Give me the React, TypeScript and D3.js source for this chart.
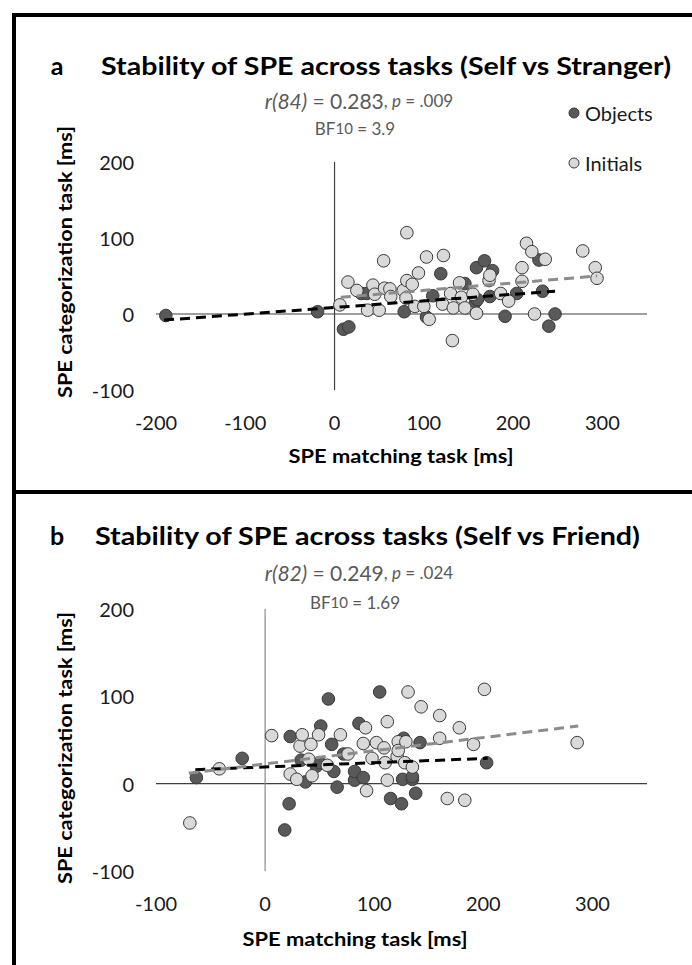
import React from "react";
import * as d3 from "d3";

// ---------- DATA ----------
const xTicksA = [-200, -100, 0, 100, 200, 300];
const xTicksB = [-100, 0, 100, 200, 300];
const yTicks = [-100, 0, 100, 200];

// Panel a: Self vs Stranger  [matching SPE, categorization SPE]
const objectsA: [number, number][] = [
  [-189, -2], [-19, 3], [10, -20], [16, -17], [30, 27], [36, 27], [78, 3], [103, -4],
  [110, 24], [119, 53], [146, 40], [158, 16], [160, 19], [159, 61], [168, 70], [177, 57],
  [174, 23], [191, -3], [204, 27], [229, 71], [233, 30], [240, -16], [247, 0],
];
const initialsA: [number, number][] = [
  [6, 12], [15, 42], [25, 31], [43, 38], [45, 26], [37, 5], [50, 5], [55, 70], [56, 34],
  [62, 33], [63, 23], [77, 31], [80, 21], [81, 107], [81, 44], [87, 39], [94, 54], [90, 10],
  [100, 10], [106, -7], [103, 75], [122, 77], [121, 13], [130, 27], [133, 8], [132, -35],
  [140, 41], [142, 22], [146, 8], [155, 26], [159, 1], [173, 44], [174, 51], [186, 27],
  [195, 17], [210, 61], [210, 43], [215, 93], [221, 82], [236, 72], [224, 0], [278, 83],
  [292, 61], [294, 47],
];
const trendObjectsA: [number, number][] = [[-191, -8], [247, 30]];
const trendInitialsA: [number, number][] = [[7, 22], [294, 50]];

// Panel b: Self vs Friend
const objectsB: [number, number][] = [
  [-63, 7], [-21, 29], [18, -53], [22, -23], [23, 54], [33, 27], [37, 2], [47, 20], [50, 24],
  [51, 66], [58, 97], [61, 45], [63, 14], [66, -4], [72, 34], [82, 4], [82, 14], [86, 69],
  [90, 7], [105, 105], [115, -17], [125, -23], [126, 5], [127, 52], [135, 5], [135, 8],
  [138, -11], [142, 47], [203, 24],
];
const initialsB: [number, number][] = [
  [-69, -45], [-42, 17], [6, 55], [23, 11], [29, 5], [32, 43], [34, 56], [40, 28], [42, 45],
  [43, 9], [49, 56], [57, 21], [69, 56], [76, 34], [90, 46], [92, 64], [93, -8], [98, 29],
  [102, 47], [109, 41], [110, 24], [112, 71], [112, 4], [121, 31], [122, 48], [122, 38],
  [128, 24], [129, 48], [131, 105], [135, 19], [143, 88], [160, 78], [160, 52], [167, -17],
  [178, 64], [183, -19], [191, 45], [201, 108], [286, 47],
];
const trendObjectsB: [number, number][] = [[-64, 16], [204, 29]];
const trendInitialsB: [number, number][] = [[-70, 12], [287, 66]];

const legendLabels = ["Objects", "Initials"];

// ---------- STYLE ----------
const FONT = "Lato, 'Open Sans', sans-serif";
const DARK = "#595959";
const LIGHT = "#d9d9d9";
const STROKE = "#3a3a3a";

type PanelProps = {
  letter: string;
  title: string;
  titleY: number;
  titleX: number;
  titleW: number;
  xDomain: [number, number];
  xTicks: number[];
  yRange: [number, number];
  objects: [number, number][];
  initials: [number, number][];
  trendO: [number, number][];
  trendI: [number, number][];
  rText: string;
  rVal: string;
  pVal: string;
  statY: number;
  bfY: number;
  bfVal: string;
  xTitleX: number;
  xTitleY: number;
  xTickY: number;
  yTitleY: number;
  vAxisColor: string;
  legend: boolean;
};

function Panel(p: PanelProps) {
  const x = d3.scaleLinear().domain(p.xDomain).range([156, 647]);
  const y = d3.scaleLinear().domain([-100, 200]).range(p.yRange);
  const line = d3
    .line<[number, number]>()
    .x((d) => x(d[0]))
    .y((d) => y(d[1]));
  return (
    <g>
      {/* title */}
      <text x={57} y={p.titleY} fontFamily={FONT} fontWeight="bold" fontSize={25} textAnchor="middle" dominantBaseline="central" fill="#000">
        {p.letter}
      </text>
      <text x={p.titleX} y={p.titleY} fontFamily={FONT} fontWeight="bold" fontSize={25} dominantBaseline="central" fill="#000" textLength={p.titleW} lengthAdjust="spacingAndGlyphs">
        {p.title}
      </text>
      {/* stats */}
      <text x={359} y={p.statY} fontFamily={FONT} fontSize={21} textAnchor="middle" dominantBaseline="central" fill="#595959">
        <tspan fontStyle="italic">{p.rText}</tspan>
        <tspan>{" = " + p.rVal}</tspan>
        <tspan fontSize={17}>{", "}</tspan>
        <tspan fontSize={17} fontStyle="italic">p</tspan>
        <tspan fontSize={17}>{" = " + p.pVal}</tspan>
      </text>
      <text x={355} y={p.bfY} fontFamily={FONT} fontSize={17} textAnchor="middle" dominantBaseline="central" fill="#595959">
        <tspan>BF</tspan>
        <tspan fontSize={15}>10</tspan>
        <tspan>{" = " + p.bfVal}</tspan>
      </text>
      {/* axes */}
      <line x1={x(p.xDomain[0])} x2={x(p.xDomain[1])} y1={y(0)} y2={y(0)} stroke="#404040" strokeWidth={1.2} />
      <line x1={x(0)} x2={x(0)} y1={y(200)} y2={y(-100)} stroke={p.vAxisColor} strokeWidth={1.2} />
      {yTicks.map((t) => (
        <text key={"y" + t} x={134} y={y(t)} fontFamily={FONT} fontSize={20} textAnchor="end" dominantBaseline="central" fill="#1a1a1a">
          {t}
        </text>
      ))}
      {p.xTicks.map((t) => (
        <text key={"x" + t} x={x(t)} y={p.xTickY} fontFamily={FONT} fontSize={20} textAnchor="middle" dominantBaseline="central" fill="#1a1a1a">
          {t}
        </text>
      ))}
      <text x={p.xTitleX} y={p.xTitleY} fontFamily={FONT} fontSize={19} fontWeight="bold" textAnchor="middle" dominantBaseline="central" fill="#000" textLength={225} lengthAdjust="spacingAndGlyphs">
        SPE matching task [ms]
      </text>
      <text transform={`translate(64,${p.yTitleY}) rotate(-90)`} fontFamily={FONT} fontSize={19} fontWeight="bold" textAnchor="middle" dominantBaseline="central" fill="#000" textLength={272} lengthAdjust="spacingAndGlyphs">
        SPE categorization task [ms]
      </text>
      {/* points */}
      {p.objects.map((d, i) => (
        <circle key={"o" + i} cx={x(d[0])} cy={y(d[1])} r={6.3} fill={DARK} stroke={STROKE} strokeWidth={1} />
      ))}
      {p.initials.map((d, i) => (
        <circle key={"i" + i} cx={x(d[0])} cy={y(d[1])} r={6.3} fill={LIGHT} stroke={STROKE} strokeWidth={1} />
      ))}
      {/* trend lines */}
      <path d={line(p.trendO) || ""} fill="none" stroke="#000" strokeWidth={3} strokeDasharray="10,6" />
      <path d={line(p.trendI) || ""} fill="none" stroke="#8c8c8c" strokeWidth={3} strokeDasharray="10,6" />
      {p.legend && (
        <g>
          <circle cx={574} cy={113} r={5} fill={DARK} stroke={STROKE} strokeWidth={1} />
          <text x={585} y={113} fontFamily={FONT} fontSize={20} dominantBaseline="central" fill="#1a1a1a">
            {legendLabels[0]}
          </text>
          <circle cx={574} cy={163} r={5} fill={LIGHT} stroke={STROKE} strokeWidth={1} />
          <text x={585} y={163} fontFamily={FONT} fontSize={20} dominantBaseline="central" fill="#1a1a1a">
            {legendLabels[1]}
          </text>
        </g>
      )}
    </g>
  );
}

export default function App() {
  return (
    <svg width={692} height={965} style={{ position: "absolute", left: 0, top: 0, background: "#fff" }}>
      <rect x={0} y={0} width={692} height={965} fill="#fff" />
      {/* frame */}
      <line x1={12} x2={692} y1={15} y2={15} stroke="#000" strokeWidth={4} />
      <line x1={14} x2={14} y1={13} y2={965} stroke="#000" strokeWidth={4} />
      <line x1={12} x2={692} y1={492} y2={492} stroke="#000" strokeWidth={4} />
      <Panel
        letter="a"
        title="Stability of SPE across tasks  (Self vs Stranger)"
        titleX={101}
        titleY={65}
        titleW={570}
        xDomain={[-200, 350]}
        xTicks={xTicksA}
        yRange={[390, 162]}
        objects={objectsA}
        initials={initialsA}
        trendO={trendObjectsA}
        trendI={trendInitialsA}
        rText="r(84)"
        rVal="0.283"
        pVal=".009"
        statY={100}
        bfY={128}
        bfVal="3.9"
        xTitleX={401}
        xTitleY={455}
        xTickY={422}
        yTitleY={262}
        vAxisColor="#404040"
        legend={true}
      />
      <Panel
        letter="b"
        title="Stability of SPE across tasks  (Self vs Friend)"
        titleX={95}
        titleY={535}
        titleW={545}
        xDomain={[-100, 350]}
        xTicks={xTicksB}
        yRange={[871, 609]}
        objects={objectsB}
        initials={initialsB}
        trendO={trendObjectsB}
        trendI={trendInitialsB}
        rText="r(82)"
        rVal="0.249"
        pVal=".024"
        statY={572}
        bfY={602}
        bfVal="1.69"
        xTitleX={355}
        xTitleY={938}
        xTickY={903}
        yTitleY={748}
        vAxisColor="#8a8a8a"
        legend={false}
      />
    </svg>
  );
}
